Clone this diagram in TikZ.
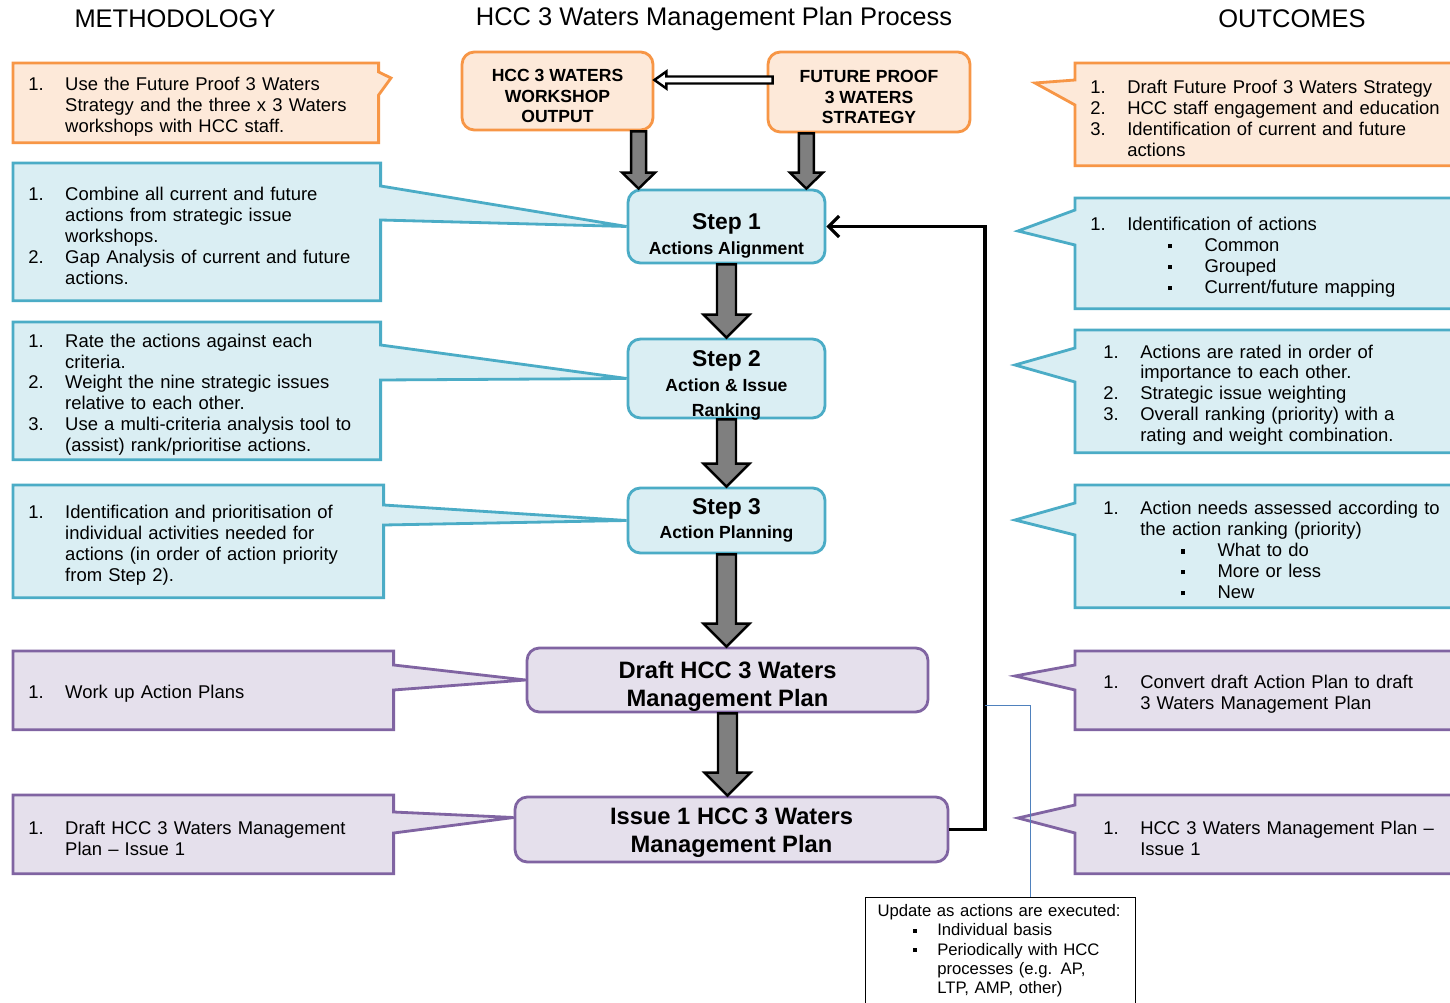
\documentclass[tikz,border=0pt]{standalone}
\usepackage{fontspec}
\setmainfont{Liberation Sans}
\usetikzlibrary{calc, arrows.meta, backgrounds}

\definecolor{ornge}{HTML}{F79646}
\definecolor{orngefill}{HTML}{FDE9D9}
\definecolor{aqua}{HTML}{4BACC6}
\definecolor{aquafill}{HTML}{DAEEF3}
\definecolor{plum}{HTML}{8064A2}
\definecolor{plumfill}{HTML}{E5E0EC}
\definecolor{steel}{HTML}{4F81BD}
\definecolor{shaft}{HTML}{7F7F7F}

\newcommand{\itm}[2]{\par\noindent\hangindent=21pt\hangafter=1\makebox[21pt][l]{#1}#2\par}
\newcommand{\bul}[1]{\par\noindent\hangindent=65pt\hangafter=1\hspace*{44pt}\makebox[21pt][l]{\rule[1.8pt]{2.6pt}{2.6pt}}#1\par}
\newcommand{\nbul}[1]{\par\noindent\hangindent=34pt\hangafter=1\hspace*{20pt}\makebox[14pt][l]{\rule[1.8pt]{2.4pt}{2.4pt}}#1\par}

% block arrow: [style]{from}{to}{half shaft}{half head}{head length}
\newcommand{\fatarrow}[6][]{%
  \coordinate (faB) at ($(#3)!#6!(#2)$);
  \draw[fatarr,#1] ($(#2)!#4!90:(#3)$) -- ($(faB)!#4!90:(#3)$) -- ($(faB)!#5!90:(#3)$) -- (#3)
    -- ($(faB)!#5!-90:(#3)$) -- ($(faB)!#4!-90:(#3)$) -- ($(#2)!#4!-90:(#3)$) -- cycle;}

% callout outline, pointer on the right / on the left
\newcommand{\calloutR}[5]{%
  \draw[calloutbox=#1] (#2.north west) -- (#2.north east) -- ($(#2.north east)+(0,#3)$) -- (#5)
    -- ($(#2.north east)+(0,#4)$) -- (#2.south east) -- (#2.south west) -- cycle;}
\newcommand{\calloutL}[5]{%
  \draw[calloutbox=#1] (#2.north west) -- (#2.north east) -- (#2.south east) -- (#2.south west)
    -- ($(#2.north west)+(0,#4)$) -- (#5) -- ($(#2.north west)+(0,#3)$) -- cycle;}

\begin{document}
\begin{tikzpicture}[
  x=0.02cm, y=-0.02cm,
  every node/.style={font=\fontsize{10.5}{11.9}\selectfont},
  heading/.style={font=\fontsize{14.5}{17}\selectfont},
  ctext/.style={anchor=north west, align=left, inner xsep=0.3cm, inner ysep=0pt},
  ctextwide/.style={ctext, inner xsep=0.56cm},
  calloutbox/.style={draw=#1, fill=#1fill, line width=1.6pt},
  stepbox/.style={draw=#1, fill=#1fill, line width=1.6pt, rounded corners=7pt,
                  align=center, inner sep=1pt, font=\fontsize{10}{14}\selectfont\bfseries},
  srcbox/.style={stepbox=ornge, text height=36pt, font=\fontsize{10}{11.6}\selectfont\bfseries},
  planbox/.style={stepbox=plum, font=\fontsize{13.5}{16}\selectfont\bfseries},
  fatarr/.style={draw=black, fill=shaft, line width=1.4pt, line join=miter},
  loopback/.style={draw=black, line width=1.8pt, -{Straight Barb[length=6pt, width=12pt]}},
  noteline/.style={draw=steel, line width=0.5pt},
  notebox/.style={draw=black, fill=white, line width=0.6pt, anchor=north west, align=left,
                  inner xsep=0.24cm, inner ysep=0.14cm, text width=4.92cm,
                  font=\fontsize{9.5}{11}\selectfont},
]
\useasboundingbox (0,0) rectangle (1450,1003);

% column headings
\node[heading] (tmeth) at (175,19) {METHODOLOGY};
\node[heading] (tproc) at (714,19) {HCC 3 Waters Management Plan Process};
\node[heading] (tout) at (1292,19) {OUTCOMES};

% process column
\node[srcbox, minimum width=3.82cm, minimum height=1.56cm] (ws) at (557.5,91) {HCC 3 WATERS\\WORKSHOP\\OUTPUT};
\node[srcbox, minimum width=4.04cm, minimum height=1.6cm] (fp) at (869,92) {FUTURE PROOF\\3 WATERS\\STRATEGY};
\node[stepbox=aqua, text height=33.5pt, minimum width=3.94cm, minimum height=1.46cm] (s1) at (726.5,226.5) {{\fontsize{13}{15}\selectfont Step 1}\\Actions Alignment};
\node[stepbox=aqua, text height=42.9pt, text depth=-1.35pt, minimum width=3.94cm, minimum height=1.54cm] (s2) at (726.5,378.5) {{\fontsize{13}{15}\selectfont Step 2}\\Action \& Issue\\Ranking};
\node[stepbox=aqua, minimum width=3.94cm, minimum height=1.3cm] (s3) at (726.5,520.5) {{\fontsize{13}{15}\selectfont Step 3}\\Action Planning};
\node[planbox, text height=32.5pt, text depth=1.8pt, minimum width=8.02cm, minimum height=1.28cm] (draft) at (727.5,680) {Draft HCC 3 Waters\\Management Plan};
\node[planbox, text height=29.1pt, minimum width=8.66cm, minimum height=1.3cm] (iss) at (731.5,829.5) {Issue 1 HCC 3 Waters\\Management Plan};

% methodology
\node[ctext, text width=6.7cm, minimum height=1.58cm] (m0) at (13,63) {%
  \itm{1.}{Use the Future Proof 3 Waters\newline Strategy and the three x 3 Waters\newline workshops with HCC staff.}};
\node[ctext, text width=6.74cm, minimum height=2.74cm] (m1) at (13,163) {%
  \itm{1.}{Combine all current and future\newline actions from strategic issue\newline workshops.}
  \itm{2.}{Gap Analysis of current and future\newline actions.}};
\node[ctext, text width=6.74cm, minimum height=2.74cm] (m2) at (13,322) {%
  \itm{1.}{Rate the actions against each\newline criteria.}
  \itm{2.}{Weight the nine strategic issues\newline relative to each other.}
  \itm{3.}{Use a multi-criteria analysis tool to\newline (assist) rank/prioritise actions.}};
\node[ctext, text width=6.8cm, minimum height=2.24cm] (m3) at (13,485) {%
  \itm{1.}{Identification and prioritisation of\newline individual activities needed for\newline actions (in order of action priority\newline from Step 2).}};
\node[ctext, text width=7cm, minimum height=1.56cm] (m4) at (13,651) {\itm{1.}{Work up Action Plans}};
\node[ctext, text width=7cm, minimum height=1.56cm] (m5) at (13,795) {%
  \itm{1.}{Draft HCC 3 Waters Management\newline Plan -- Issue 1}};

% outcomes
\node[ctext, text width=7.6cm, minimum height=2.04cm] (o0) at (1075,63) {%
  \itm{1.}{Draft Future Proof 3 Waters Strategy}
  \itm{2.}{HCC staff engagement and education}
  \itm{3.}{Identification of current and future\newline actions}};
\node[ctext, text width=7.6cm, minimum height=2.2cm] (o1) at (1075,198) {%
  \itm{1.}{Identification of actions}
  \bul{Common}\bul{Grouped}\bul{Current/future mapping}};
\node[ctextwide, text width=7.2cm, minimum height=2.44cm] (o2) at (1075,330) {%
  \itm{1.}{Actions are rated in order of\newline importance to each other.}
  \itm{2.}{Strategic issue weighting}
  \itm{3.}{Overall ranking (priority) with a\newline rating and weight combination.}};
\node[ctextwide, text width=7.2cm, minimum height=2.44cm] (o3) at (1075,485) {%
  \itm{1.}{Action needs assessed according to\newline the action ranking (priority)}
  \bul{What to do}\bul{More or less}\bul{New}};
\node[ctextwide, text width=7.2cm, minimum height=1.56cm] (o4) at (1075,651) {%
  \itm{1.}{Convert draft Action Plan to draft\newline 3 Waters Management Plan}};
\node[ctextwide, text width=7.2cm, minimum height=1.56cm] (o5) at (1075,795) {%
  \itm{1.}{HCC 3 Waters Management Plan --\newline Issue 1}};

% pointer tips
\coordinate (m0tip) at (391,78);
\coordinate (m5tip) at ($(iss.west)+(0,-12)$);
\coordinate (o0tip) at (1035,83);
\coordinate (o1tip) at (1018,231);
\coordinate (o2tip) at (1015,365);
\coordinate (o3tip) at (1015,520);
\coordinate (o4tip) at (1015,676);
\coordinate (o5tip) at (1018,818);

% update note
\node[notebox] (note) at (865,897) {Update as actions are executed:
  \nbul{Individual basis}
  \nbul{Periodically with HCC\newline processes (e.g. AP,\newline LTP, AMP, other)}\vspace*{8pt}};

% block arrows
\coordinate (a1) at ($(s1.north west)+(12,0)$);
\coordinate (a2) at ($(s1.north east)+(-20,0)$);
\coordinate (w1) at (ws.south -| a1);
\coordinate (f1) at (fp.south -| a2);
\fatarrow{w1}{a1}{0.15cm}{0.33cm}{0.32cm}
\fatarrow{f1}{a2}{0.15cm}{0.33cm}{0.32cm}
\coordinate (h0) at ($(fp.west)+(6,-12)$);
\coordinate (h1) at ($(ws.east)+(0,-11)$);
\fatarrow[fill=white]{h0}{h1}{0.07cm}{0.17cm}{0.24cm}
\fatarrow{s1.south}{s2.north}{0.19cm}{0.46cm}{0.46cm}
\fatarrow{s2.south}{s3.north}{0.19cm}{0.46cm}{0.46cm}
\coordinate (d0) at (s3.south |- draft.north);
\fatarrow{s3.south}{d0}{0.19cm}{0.46cm}{0.46cm}
\coordinate (i0) at (draft.south |- iss.north);
\fatarrow{draft.south}{i0}{0.19cm}{0.46cm}{0.46cm}

% feedback loop
\coordinate (fbjoin) at (985,705);
\draw[loopback] (iss.east) -| (fbjoin |- s1.east) -- (s1.east);
\draw[noteline] (fbjoin) -| ($(note.north west)+(165,0)$);

\begin{scope}[on background layer]
\fill[white] (0,0) rectangle (1450,1003);
\calloutR{ornge}{m0}{9}{32}{m0tip}
\calloutR{aqua}{m1}{23}{57}{s1.west}
\calloutR{aqua}{m2}{23}{58}{s2.west}
\calloutR{aqua}{m3}{20}{40}{s3.west}
\calloutR{plum}{m4}{14}{39}{draft.west}
\calloutR{plum}{m5}{17}{38}{m5tip}
\calloutL{ornge}{o0}{17}{42}{o0tip}
\calloutL{aqua}{o1}{12}{47}{o1tip}
\calloutL{aqua}{o2}{18}{52}{o2tip}
\calloutL{aqua}{o3}{18}{50}{o3tip}
\calloutL{plum}{o4}{14}{39}{o4tip}
\calloutL{plum}{o5}{10}{38}{o5tip}
\end{scope}
\end{tikzpicture}
\end{document}
